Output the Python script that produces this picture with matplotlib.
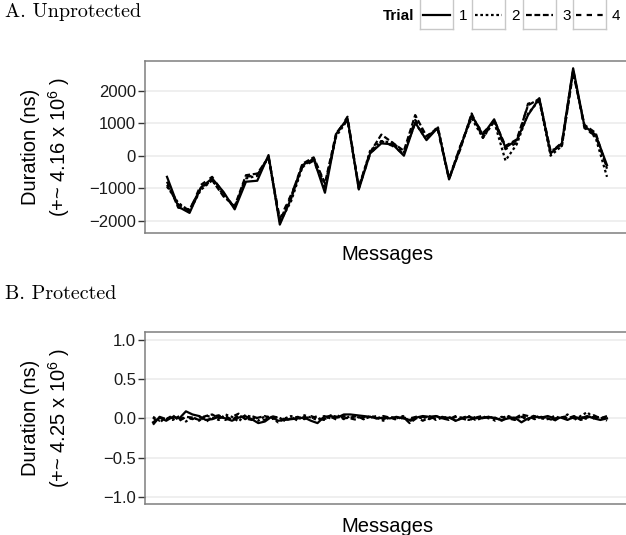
import matplotlib
matplotlib.use("Agg")
import matplotlib.pyplot as plt

plt.rcParams['font.family'] = ['Liberation Sans', 'DejaVu Sans']
plt.rcParams['mathtext.fontset'] = 'custom'
plt.rcParams['mathtext.rm'] = 'Liberation Sans'
plt.rcParams['mathtext.it'] = 'Liberation Sans:italic'

# panel A: unprotected, 40 messages, 4 trials
a_trial1 = [-650, -1570, -1760, -980, -700, -1110, -1650, -800, -770, 20,
            -2120, -1320, -290, -100, -1140, 670, 1150, -1040, 70, 380,
            350, 0, 1020, 480, 860, -730, 250, 1250, 640, 1120,
            250, 480, 1250, 1770, 70, 380, 2690, 910, 640, -290]
a_trial2 = [-950, -1450, -1700, -1050, -760, -1200, -1600, -700, -620, -50,
            -2050, -1400, -350, -80, -900, 600, 1100, -1000, 150, 450,
            400, 100, 1000, 500, 900, -700, 300, 1150, 550, 1050,
            -150, 350, 1300, 1700, 0, 300, 2600, 900, 550, -650]
a_trial3 = [-800, -1600, -1650, -1000, -750, -1250, -1550, -600, -550, -50,
            -2000, -1250, -250, -50, -850, 700, 1100, -950, 100, 650,
            400, 150, 1250, 600, 850, -700, 200, 1300, 550, 1100,
            300, 500, 1550, 1750, 150, 300, 2550, 950, 700, -400]
a_trial4 = [-900, -1500, -1700, -900, -650, -1150, -1600, -650, -600, -30,
            -1950, -1200, -350, -150, -1000, 650, 1200, -1000, 50, 450,
            300, 50, 1100, 600, 800, -720, 300, 1200, 700, 1050,
            200, 400, 1600, 1700, 100, 400, 2650, 850, 600, -350]

# panel B: protected, 70 messages, 4 trials
b_trial1 = [-0.05, 0.01, -0.03, 0.02, 0.00, 0.09, 0.05, 0.03, -0.02, -0.01,
            0.02, 0.00, -0.03, 0.01, 0.03, -0.01, -0.06, -0.04, 0.02, -0.03,
            -0.02, -0.01, 0.00, 0.01, -0.03, -0.06, 0.02, 0.03, 0.01, 0.05,
            0.05, 0.04, 0.03, 0.02, 0.00, 0.01, 0.00, 0.02, 0.00, -0.02,
            0.01, 0.03, 0.02, 0.03, 0.00, 0.01, -0.03, 0.00, 0.02, 0.00,
            0.01, 0.02, 0.00, -0.02, 0.00, 0.01, -0.05, 0.00, 0.02, 0.01,
            0.03, 0.00, 0.01, -0.02, 0.02, 0.00, 0.03, 0.00, -0.02, 0.00]
b_trial2 = [0.02, -0.03, 0.01, -0.02, 0.03, -0.04, 0.02, -0.03, 0.04, 0.01,
            -0.02, 0.05, 0.02, -0.04, 0.04, 0.02, -0.03, 0.03, 0.01, -0.05,
            0.00, 0.03, -0.02, 0.04, 0.01, -0.02, 0.03, 0.00, 0.04, -0.01,
            0.03, 0.02, -0.01, 0.03, 0.01, -0.03, 0.02, 0.00, 0.03, -0.04,
            0.02, 0.00, 0.03, -0.02, 0.01, 0.02, -0.03, 0.01, 0.03, -0.02,
            0.00, 0.02, -0.03, 0.01, 0.03, 0.00, 0.02, -0.02, 0.04, 0.00,
            -0.01, 0.03, 0.00, 0.05, -0.02, 0.03, 0.08, 0.00, 0.02, -0.03]
b_trial3 = [-0.08, 0.02, -0.01, 0.04, -0.03, 0.02, 0.01, -0.02, 0.03, 0.05,
            0.00, 0.03, -0.02, 0.04, 0.00, -0.02, 0.01, 0.03, -0.01, 0.02,
            -0.03, 0.00, 0.02, -0.01, 0.03, 0.00, -0.02, 0.04, 0.02, 0.00,
            0.01, 0.03, -0.01, 0.02, 0.00, 0.03, 0.01, -0.01, 0.02, -0.06,
            0.00, 0.02, -0.01, 0.03, 0.00, -0.02, 0.02, 0.01, -0.02, 0.01,
            0.03, 0.00, 0.01, -0.03, 0.02, 0.00, 0.05, 0.03, -0.01, 0.02,
            0.00, -0.03, 0.02, 0.00, 0.03, -0.02, 0.01, 0.04, 0.00, 0.02]
b_trial4 = [0.01, -0.06, 0.03, 0.00, -0.02, 0.02, -0.01, 0.03, -0.05, 0.02,
            0.04, -0.02, 0.02, 0.06, -0.01, 0.03, 0.00, -0.02, 0.03, 0.01,
            -0.01, 0.02, -0.03, 0.02, 0.00, 0.03, -0.01, 0.02, -0.02, 0.03,
            0.00, -0.02, 0.02, 0.01, 0.03, -0.01, 0.02, -0.02, 0.01, 0.00,
            0.02, -0.03, 0.01, 0.00, 0.02, -0.01, 0.03, 0.00, -0.03, 0.02,
            0.00, 0.03, -0.01, 0.02, 0.00, -0.02, 0.02, 0.01, 0.03, 0.00,
            0.02, -0.02, 0.01, 0.03, 0.00, 0.02, -0.01, 0.02, 0.00, 0.03]

trial_labels = ["1", "2", "3", "4"]
a_yticks = [-2000, -1000, 0, 1000, 2000]
b_yticks = [-1.0, -0.5, 0.0, 0.5, 1.0]

# ggplot-like linetypes: solid, "22", "42", "44"
styles = [dict(linestyle="-"),
          dict(dashes=(1.2, 1.2)),
          dict(dashes=(2.6, 1.2)),
          dict(dashes=(2.4, 2.4))]
LW = 1.6
W, H = 626, 535


def style_panel(ax, yticks, ylim, xlim, ylab):
    ax.set_ylim(*ylim)
    ax.set_xlim(*xlim)
    ax.set_yticks(yticks)
    ax.set_xticks([])
    ax.grid(axis="y", color="#ebebeb", linewidth=1.1)
    ax.set_axisbelow(True)
    for s in ax.spines.values():
        s.set_color("#7f7f7f")
        s.set_linewidth(1.1)
    ax.spines["right"].set_visible(False)
    ax.tick_params(axis="y", length=5, width=1, color="#333333", pad=1.5,
                   labelsize=12, labelcolor="#1a1a1a")
    ax.set_xlabel("Messages", fontsize=14.5, labelpad=9)
    ax.text(-0.203, 0.5, ylab, transform=ax.transAxes, rotation=90,
            ha="center", va="center", fontsize=14.5, multialignment="center",
            linespacing=1.35)


fig = plt.figure(figsize=(W / 100, H / 100), dpi=100)

axA = fig.add_axes([145 / W, 1 - 233 / H, 485 / W, 172 / H])
xa = list(range(1, len(a_trial1) + 1))
for ys, st in zip([a_trial4, a_trial3, a_trial2, a_trial1], styles[::-1]):
    axA.plot(xa, ys, color="black", linewidth=LW, **st)
style_panel(axA, a_yticks, (-2378, 2914), (-0.95, 42.04),
            "Duration (ns)\n(+~ 4.16 x 10$^6$ )")

axB = fig.add_axes([145 / W, 1 - 504 / H, 485 / W, 172 / H])
xb = list(range(1, len(b_trial1) + 1))
for ys, st in zip([b_trial4, b_trial3, b_trial2, b_trial1], styles[::-1]):
    axB.plot(xb, ys, color="black", linewidth=LW, **st)
style_panel(axB, b_yticks, (-1.09, 1.10), (-0.22, 73.5),
            "Duration (ns)\n(+~ 4.25 x 10$^6$ )")
axB.set_yticklabels(["\u22121.0", "\u22120.5", "0.0", "0.5", "1.0"])

fig.text(5 / W, 1 - 12 / H, "A. Unprotected", family="cmr10", fontsize=14.5,
         va="center", ha="left")
fig.text(5 / W, 1 - 294 / H, "B. Protected", family="cmr10", fontsize=14.5,
         va="center", ha="left")

# legend
fig.text(383 / W, 1 - 16 / H, "Trial", fontweight="bold", fontsize=11,
         va="center", ha="left")
key_left = [420, 472, 523, 573]
for left, lab, st in zip(key_left, trial_labels, styles):
    kax = fig.add_axes([left / W, 1 - 29 / H, 33 / W, 33 / H])
    kax.plot([0, 1], [0, 0], color="black", linewidth=LW, **st)
    kax.set_xlim(-0.12, 1.12)
    kax.set_ylim(-0.6, 0.8)
    kax.set_xticks([])
    kax.set_yticks([])
    for s in kax.spines.values():
        s.set_color("#c8c8c8")
        s.set_linewidth(1.0)
    fig.text((left + 39) / W, 1 - 16 / H, lab, fontsize=11, va="center",
             ha="left")

fig.savefig("out.png", dpi=100)
